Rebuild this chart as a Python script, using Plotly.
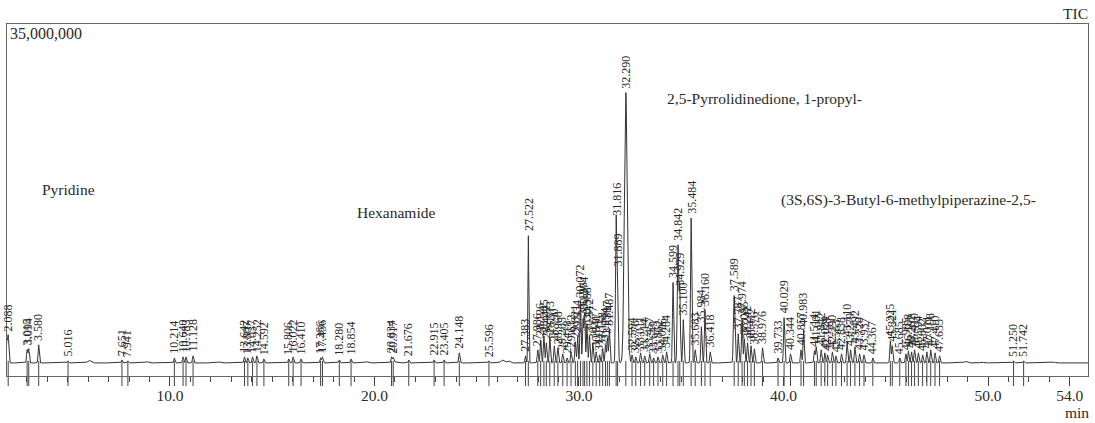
import numpy as np
import plotly.graph_objects as go

# Retention times (min) of the integrated peaks and their apex intensities (counts)
peak_rt = [
    2.018, 2.088, 3.015, 3.094, 3.580, 5.016, 7.651, 7.941,
    10.214, 10.640, 10.783, 11.128,
    13.642, 13.807, 14.037, 14.252, 14.592,
    15.806, 16.022, 16.410, 17.366, 17.456, 18.280, 18.854,
    20.834, 20.917, 21.676, 22.915, 23.405, 24.148, 25.596,
    27.383, 27.522,
    27.986, 28.126, 28.285, 28.402, 28.573, 28.790, 28.968, 29.205, 29.418,
    29.612, 29.821, 29.934, 30.072, 30.196, 30.274, 30.388, 30.512, 30.677, 30.841,
    31.012, 31.158, 31.294, 31.387, 31.487,
    31.816, 31.889, 32.290,
    32.594, 32.776, 33.011, 33.214, 33.457, 33.649, 33.862, 34.096, 34.284,
    34.599, 34.842, 34.929, 35.100, 35.484, 35.683, 35.984, 36.160, 36.418,
    37.589, 37.787, 37.974, 38.085, 38.242, 38.412, 38.576, 38.976,
    39.733, 40.029, 40.344, 40.857, 40.983,
    41.514, 41.601, 41.842, 42.024, 42.158, 42.390, 42.563, 42.838,
    43.110, 43.279, 43.492, 43.720, 43.937, 44.367,
    45.225, 45.321, 45.685, 45.985, 46.108, 46.262, 46.410, 46.594, 46.802,
    47.011, 47.198, 47.410, 47.633,
    51.250, 51.742,
]
peak_height = [
    3.6e6, 4.0e6, 2.6e6, 2.7e6, 3.1e6, 1.5e6, 1.6e6, 1.5e6,
    1.8e6, 1.9e6, 1.9e6, 2.0e6,
    1.9e6, 1.8e6, 1.9e6, 2.0e6, 1.7e6,
    1.7e6, 1.9e6, 1.7e6, 1.8e6, 1.9e6, 1.6e6, 1.7e6,
    1.9e6, 1.8e6, 1.6e6, 1.6e6, 1.6e6, 2.3e6, 1.5e6,
    2.0e6, 14.0e6,
    2.6e6, 3.6e6, 4.0e6, 3.3e6, 3.8e6, 3.0e6, 2.8e6, 2.2e6, 1.8e6,
    2.4e6, 3.4e6, 3.9e6, 7.4e6, 5.6e6, 6.2e6, 5.2e6, 4.0e6, 3.3e6, 2.4e6,
    2.1e6, 2.7e6, 3.1e6, 3.8e6, 4.6e6,
    15.5e6, 10.5e6, 28.2e6,
    2.1e6, 1.9e6, 2.3e6, 2.0e6, 2.2e6, 1.8e6, 1.9e6, 2.1e6, 2.4e6,
    9.3e6, 13.0e6, 8.6e6, 5.6e6, 15.7e6, 2.6e6, 4.9e6, 6.6e6, 2.4e6,
    8.0e6, 4.2e6, 5.7e6, 3.7e6, 3.3e6, 3.0e6, 2.7e6, 2.8e6,
    1.8e6, 5.8e6, 2.2e6, 2.6e6, 4.6e6,
    2.5e6, 2.9e6, 2.6e6, 2.3e6, 2.1e6, 2.4e6, 2.0e6, 2.2e6,
    3.5e6, 2.6e6, 2.9e6, 2.2e6, 2.1e6, 1.8e6,
    3.5e6, 3.0e6, 1.8e6, 2.2e6, 2.5e6, 2.4e6, 2.6e6, 2.3e6, 2.1e6,
    2.4e6, 2.6e6, 2.3e6, 2.0e6,
    1.5e6, 1.5e6,
]
# Peak widths (standard deviation, min) for the main peaks; others use the default
wide_rt = [27.522, 31.816, 31.889, 32.290, 34.842, 35.484, 37.589]
wide_sigma = [0.022, 0.030, 0.030, 0.070, 0.035, 0.030, 0.035]

# Small unintegrated humps along the baseline
hump_rt = [6.05, 8.85, 12.4, 19.6, 21.0, 26.25, 26.55, 48.9, 49.7, 53.2]
hump_height = [1.55e6, 1.42e6, 1.40e6, 1.42e6, 1.40e6, 1.6e6, 1.5e6, 1.45e6, 1.38e6, 1.38e6]

baseline = 1.3e6
x_range = [2.03, 54.89]
y_range = [0, 35e6]

compound_names = [
    "Pyridine",
    "Hexanamide",
    "2,5-Pyrrolidinedione, 1-propyl-",
    "(3S,6S)-3-Butyl-6-methylpiperazine-2,5-",
]
compound_x = [3.64, 19.05, 34.21, 39.78]
compound_y = [18.5e6, 16.3e6, 27.6e6, 17.5e6]

tick_vals = [10, 20, 30, 40, 50, 54]
tick_text = ["10.0", "20.0", "30.0", "40.0", "50.0", "54.0"]

# Build the total ion current trace from the peak table
t = np.arange(1.9, 55.0, 0.004)
tic = np.full_like(t, baseline)
default_sigma = 0.028
for rt, h in zip(peak_rt, peak_height):
    s = wide_sigma[wide_rt.index(rt)] if rt in wide_rt else default_sigma
    tic += (h - baseline) * np.exp(-0.5 * ((t - rt) / s) ** 2)
for rt, h in zip(hump_rt, hump_height):
    tic += (h - baseline) * np.exp(-0.5 * ((t - rt) / 0.08) ** 2)

SERIF = "Liberation Serif, Times New Roman, serif"
INK = "#2a2a2a"

fig = go.Figure()
fig.add_trace(go.Scatter(
    x=t, y=tic, mode="lines",
    line=dict(color="#333333", width=1),
    hoverinfo="skip", showlegend=False,
))
# Integration markers at each peak on the baseline
fig.add_trace(go.Scatter(
    x=peak_rt, y=[0.25e6] * len(peak_rt), mode="markers",
    marker=dict(symbol="line-ns-open", size=18, color="#444444",
                line=dict(color="#444444", width=1)),
    cliponaxis=False, hoverinfo="skip", showlegend=False,
))

annotations = []
for rt, h in zip(peak_rt, peak_height):
    annotations.append(dict(
        x=rt, y=h, xref="x", yref="y", text=f"{rt:.3f}",
        textangle=-90, showarrow=False, xanchor="center", yanchor="bottom",
        yshift=2, font=dict(family=SERIF, size=12, color=INK),
    ))
for name, cx, cy in zip(compound_names, compound_x, compound_y):
    annotations.append(dict(
        x=cx, y=cy, xref="x", yref="y", text=name, showarrow=False,
        xanchor="left", yanchor="middle",
        font=dict(family=SERIF, size=15.5, color=INK),
    ))
annotations += [
    dict(x=0.001, y=0.974, xref="paper", yref="paper", text="35,000,000",
         showarrow=False, xanchor="left", yanchor="middle",
         font=dict(family=SERIF, size=16, color=INK)),
    dict(x=1.0018, y=1.031, xref="paper", yref="paper", text="TIC",
         showarrow=False, xanchor="right", yanchor="middle",
         font=dict(family=SERIF, size=15.5, color=INK)),
    dict(x=0.9898, y=-0.104, xref="paper", yref="paper", text="min",
         showarrow=False, xanchor="center", yanchor="middle",
         font=dict(family=SERIF, size=15.5, color=INK)),
]

fig.update_layout(
    width=1095, height=423,
    margin=dict(l=7, r=7, t=24, b=47),
    paper_bgcolor="white", plot_bgcolor="white",
    annotations=annotations,
    xaxis=dict(
        range=x_range, showgrid=False, zeroline=False,
        showline=True, linecolor="#666666", linewidth=1, mirror=True,
        tickmode="array", tickvals=tick_vals, ticktext=tick_text,
        ticks="outside", ticklen=9, tickcolor="#444444",
        ticklabelstandoff=-4,
        tickfont=dict(family=SERIF, size=15.5, color=INK),
        minor=dict(dtick=1, tick0=0, ticks="outside", ticklen=5,
                   tickcolor="#444444", showgrid=False),
    ),
    yaxis=dict(
        range=y_range, showgrid=False, zeroline=False,
        showline=True, linecolor="#666666", linewidth=1, mirror=True,
        showticklabels=False, ticks="",
    ),
)

fig.write_html("out.html")
